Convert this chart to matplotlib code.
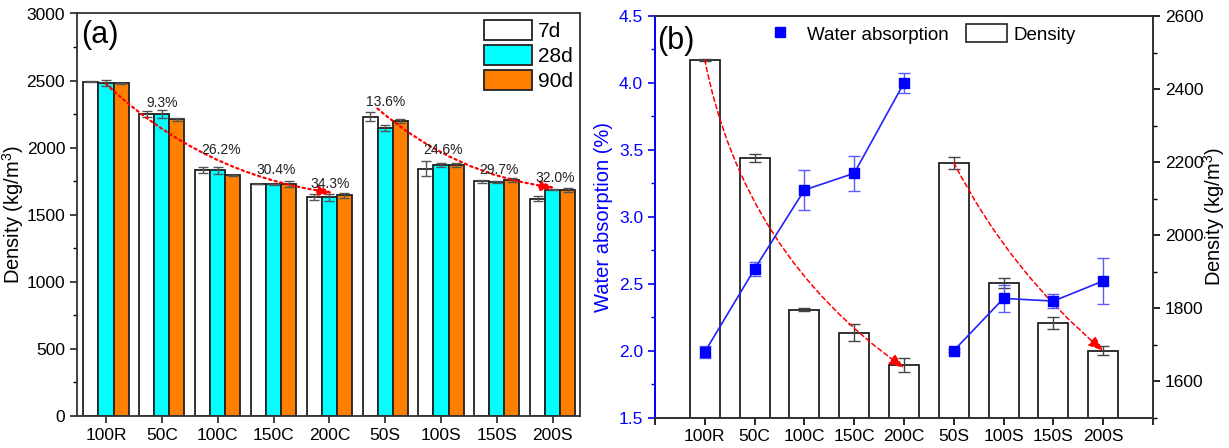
import matplotlib
matplotlib.use("Agg")
import matplotlib.pyplot as plt
from matplotlib.patches import Patch
from matplotlib.lines import Line2D
from matplotlib.ticker import MultipleLocator, FormatStrFormatter
import numpy as np

plt.rcParams['font.family'] = ['Liberation Sans', 'DejaVu Sans']
plt.rcParams['mathtext.fontset'] = 'custom'
plt.rcParams['mathtext.rm'] = 'Liberation Sans'

# ---------------- data ----------------
categories = ['100R', '50C', '100C', '150C', '200C', '50S', '100S', '150S', '200S']
dens_7d = [2492, 2252, 1832, 1728, 1631, 2232, 1842, 1750, 1620]
dens_7d_err = [5, 20, 22, 2, 22, 35, 55, 12, 20]
dens_28d = [2483, 2252, 1832, 1728, 1630, 2146, 1874, 1744, 1686]
dens_28d_err = [22, 28, 25, 3, 25, 22, 15, 5, 4]
dens_90d = [2480, 2211, 1795, 1732, 1644, 2198, 1868, 1758, 1683]
dens_90d_err = [3, 11, 4, 23, 20, 17, 14, 16, 13]
water = [1.99, 2.61, 3.20, 3.325, 4.00, 2.00, 2.39, 2.37, 2.52]
water_err = [0.045, 0.05, 0.15, 0.13, 0.075, 0.01, 0.10, 0.055, 0.17]
pct_labels = ['9.3%', '26.2%', '30.4%', '34.3%', '13.6%', '24.6%', '29.7%', '32.0%']
pct_x = [1.0, 2.06, 3.04, 4.01, 5.0, 6.04, 7.04, 8.05]
pct_y = [2332, 1982, 1837, 1730, 2337, 1982, 1835, 1775]

# ---------------- figure ----------------
W, H = 1229, 448
fig = plt.figure(figsize=(W / 100, H / 100), dpi=100)

def axrect(l, t, r, b):
    return [l / W, 1 - b / H, (r - l) / W, (b - t) / H]

x = np.arange(len(categories))
tick_fs = 12.5
edge = '#222222'

# ---------------- panel (a) ----------------
ax = fig.add_axes(axrect(77, 13.5, 579.5, 416))
bw = 0.27
err_kw = dict(ecolor='#555555', elinewidth=1.0, capsize=3.5, capthick=1.0)
ax.bar(x - bw, dens_7d, bw, yerr=dens_7d_err, color='white', edgecolor=edge,
       linewidth=1.3, label='7d', error_kw=err_kw, zorder=2)
ax.bar(x, dens_28d, bw, yerr=dens_28d_err, color='#00FFFF', edgecolor=edge,
       linewidth=1.3, label='28d', error_kw=err_kw, zorder=2)
ax.bar(x + bw, dens_90d, bw, yerr=dens_90d_err, color='#FF8000', edgecolor=edge,
       linewidth=1.3, label='90d', error_kw=err_kw, zorder=2)
ax.set_xlim(-0.52, 8.48)
ax.set_ylim(0, 3000)
ax.set_xticks(x)
ax.set_xticklabels(categories, fontsize=tick_fs)
ax.yaxis.set_major_locator(MultipleLocator(500))
ax.yaxis.set_minor_locator(MultipleLocator(250))
ax.tick_params(axis='both', direction='out', labelsize=tick_fs, width=1.2, length=5,
               color='#222222')
ax.tick_params(axis='y', which='minor', direction='out', width=1.0, length=3)
for s in ax.spines.values():
    s.set_linewidth(1.3)
    s.set_color('#333333')
ax.set_ylabel('Density (kg/m$^3$)', fontsize=14.5, labelpad=0)
ax.text(0.008, 0.985, '(a)', transform=ax.transAxes, fontsize=22, va='top', ha='left')
leg = ax.legend(loc='upper right', bbox_to_anchor=(0.996, 0.995), frameon=False,
                fontsize=15, handlelength=2.3, handleheight=1.1, labelspacing=0.2,
                handletextpad=0.3, borderpad=0.2, borderaxespad=0.0)
for p in leg.get_patches():
    p.set_linewidth(1.3)

# trend arrows (a)
ends_a = [((0.0, dens_28d[0] - 8), (4.07, dens_28d[4] + 33), 0.16),
          ((4.86, dens_7d[5] + 60), (8.05, dens_28d[8] + 14), 0.15)]
for (p0, p1, rad) in ends_a:
    ax.annotate('', xy=p1, xytext=p0,
                arrowprops=dict(arrowstyle='-|>,head_length=0.9,head_width=0.3',
                                color='red', lw=1.6, linestyle=(0, (1, 1.6)),
                                connectionstyle=f'arc3,rad={rad}',
                                shrinkA=0, shrinkB=0), zorder=5)
for t, px, py in zip(pct_labels, pct_x, pct_y):
    ax.text(px, py, t, fontsize=10, ha='center', va='center', color='#222222', zorder=6)

# ---------------- panel (b) ----------------
bx = fig.add_axes(axrect(655, 16, 1153, 417.5))
bxr = bx.twinx()
bx.set_zorder(bxr.get_zorder() + 1)
bx.patch.set_visible(False)

bxr.bar(x, dens_90d, 0.6, yerr=dens_90d_err, color='white', edgecolor=edge,
        linewidth=1.3, error_kw=dict(ecolor='#444444', elinewidth=1.0, capsize=4,
                                     capthick=1.0), zorder=2)
bxr.set_ylim(1500, 2600)
bxr.yaxis.set_major_locator(MultipleLocator(200))
bxr.yaxis.set_minor_locator(MultipleLocator(100))
bxr.tick_params(axis='y', direction='out', labelsize=tick_fs, width=1.2, length=5)
bxr.tick_params(axis='y', which='minor', direction='out', width=1.0, length=3)
bxr.set_ylabel('Density (kg/m$^3$)', fontsize=14.5)
bxr.yaxis.set_label_coords(1.097, 0.5)

bx.errorbar(x, water, yerr=water_err, fmt='none', ecolor='#5a5aff', elinewidth=1.0,
            capsize=4, capthick=1.0, zorder=3)
bx.plot(x[:5], water[:5], color='#2222ff', lw=1.2, zorder=4)
bx.plot(x[5:], water[5:], color='#2222ff', lw=1.2, zorder=4)
bx.plot(x, water, linestyle='none', marker='s', markersize=7, color='#0000ff', zorder=5)
bx.set_ylim(1.5, 4.5)
bx.set_xlim(-1, 9)
bx.yaxis.set_major_locator(MultipleLocator(0.5))
bx.yaxis.set_minor_locator(MultipleLocator(0.25))
bx.yaxis.set_major_formatter(FormatStrFormatter('%.1f'))
bx.set_xticks(np.arange(-1, 10))
bx.set_xticklabels([''] + categories + [''])
bx.tick_params(axis='x', direction='out', labelsize=tick_fs, width=1.2, length=5)
bx.tick_params(axis='y', direction='out', labelsize=tick_fs, width=1.2, length=5,
               colors='#0000ff')
bx.tick_params(axis='y', which='minor', direction='out', width=1.0, length=3,
               colors='#0000ff')
bx.set_ylabel('Water absorption (%)', fontsize=14.5, color='#0000ff', labelpad=4)
for s in list(bx.spines.values()) + list(bxr.spines.values()):
    s.set_linewidth(1.3)
    s.set_color('#333333')
bx.spines['left'].set_color('#0000ff')
bxr.spines['left'].set_color('#0000ff')
bx.text(0.005, 0.975, '(b)', transform=bx.transAxes, fontsize=22, va='top', ha='left')

handles = [Line2D([], [], linestyle='none', marker='s', markersize=7, color='#0000ff'),
           Patch(facecolor='white', edgecolor='#222222', linewidth=1.2)]
bx.legend(handles, ['Water absorption', 'Density'], loc='center left',
          bbox_to_anchor=(0.195, 0.955), ncol=2, frameon=False, fontsize=13.5,
          handlelength=2.2, handleheight=1.1, handletextpad=0.35, columnspacing=0.9,
          borderaxespad=0.0)

# trend arrows (b)
ends_b = [((0.0, dens_90d[0]), (4.0, dens_90d[4] - 8), 0.2),
          ((5.0, dens_90d[5]), (8.0, dens_90d[8]), 0.1)]
for (p0, p1, rad) in ends_b:
    bxr.annotate('', xy=p1, xytext=p0,
                 arrowprops=dict(arrowstyle='-|>,head_length=0.9,head_width=0.35',
                                 color='red', lw=1.1, linestyle=(0, (3, 2)),
                                 connectionstyle=f'arc3,rad={rad}',
                                 shrinkA=0, shrinkB=0), zorder=5)

fig.savefig('out.png', dpi=100)
